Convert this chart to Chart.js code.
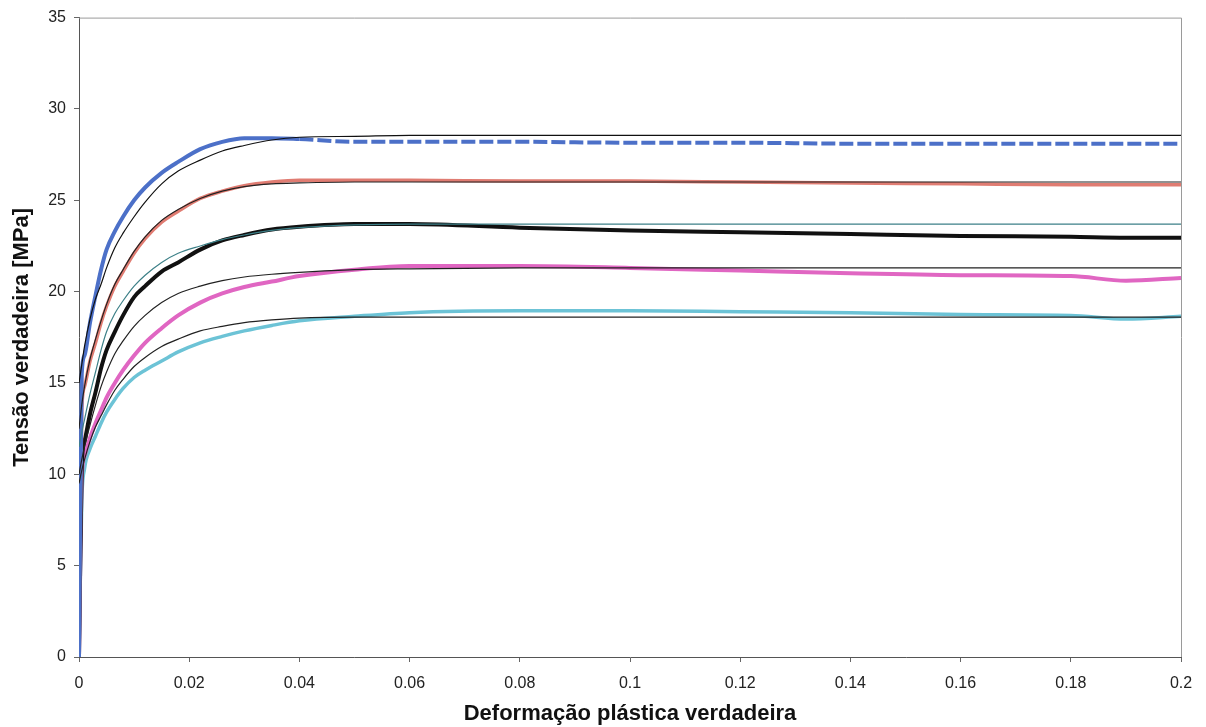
<!DOCTYPE html>
<html>
<head>
<meta charset="utf-8">
<script src="https://cdn.jsdelivr.net/npm/chart.js@4.4.1/dist/chart.umd.min.js"></script>
<style>
  html, body { margin: 0; padding: 0; background: #fff; }
  #wrap { width: 1206px; height: 727px; }
</style>
</head>
<body>
<div id="wrap"><canvas id="chart" width="1206" height="727"></canvas></div>
<script>
// true plastic strain (shared sample points)
const strain = [0, 0.0005, 0.001, 0.002, 0.003, 0.004, 0.005, 0.0065, 0.008, 0.01, 0.012, 0.015, 0.018, 0.022,
                0.026, 0.03, 0.035, 0.04, 0.05, 0.06, 0.08, 0.1, 0.12, 0.14, 0.16, 0.18, 0.19, 0.2];

// experimental curves (true stress, MPa)
const blueExp    = [0, 15.5, 16.5, 18.3, 19.8, 21.2, 22.3, 23.3, 24.1, 25.0, 25.7, 26.5, 27.1, 27.8,
                    28.2, 28.4, 28.4, 28.35, 28.2, 28.2, 28.2, 28.15, 28.15, 28.1, 28.1, 28.1, 28.1, 28.1];
const redExp     = [0, 13.5, 14.8, 16.2, 17.2, 18.3, 19.2, 20.3, 21.1, 22.1, 22.9, 23.8, 24.4, 25.1,
                    25.5, 25.8, 26.0, 26.1, 26.1, 26.1, 26.05, 26.05, 26.0, 25.95, 25.9, 25.85, 25.85, 25.85];
const blackExp   = [0, 10.5, 11.8, 13.3, 14.5, 15.8, 16.8, 17.8, 18.7, 19.7, 20.3, 21.1, 21.6, 22.3,
                    22.8, 23.1, 23.4, 23.55, 23.7, 23.7, 23.5, 23.35, 23.25, 23.15, 23.05, 23.0, 22.95, 22.95];
const magentaExp = [0, 9.8, 11.0, 12.0, 12.8, 13.5, 14.2, 15.0, 15.7, 16.5, 17.2, 18.0, 18.7, 19.4,
                    19.9, 20.25, 20.55, 20.85, 21.2, 21.4, 21.4, 21.3, 21.15, 21.0, 20.9, 20.85, 20.6, 20.75];
const cyanExp    = [0, 8.5, 10.3, 11.4, 12.1, 12.8, 13.4, 14.1, 14.7, 15.3, 15.7, 16.2, 16.7, 17.2,
                    17.55, 17.85, 18.15, 18.4, 18.65, 18.85, 18.95, 18.95, 18.9, 18.85, 18.75, 18.7, 18.5, 18.65];

// fitted curves
const blueFit    = [15, 16, 17, 18.5, 19.6, 20.4, 21.3, 22.4, 23.2, 24.1, 24.9, 25.9, 26.6, 27.2,
                    27.7, 28.0, 28.3, 28.45, 28.5, 28.55, 28.55, 28.55, 28.55, 28.55, 28.55, 28.55, 28.55, 28.55];
const redFit     = [12.5, 13.8, 14.8, 16.3, 17.4, 18.4, 19.3, 20.4, 21.2, 22.2, 23.0, 23.9, 24.5, 25.1,
                    25.5, 25.75, 25.9, 25.95, 26.0, 26.0, 26.0, 26.0, 26.0, 26.0, 26.0, 26.0, 26.0, 26.0];
const blackFit   = [11.5, 12.3, 13.0, 14.4, 15.6, 16.8, 17.8, 18.8, 19.5, 20.3, 20.9, 21.6, 22.1, 22.5,
                    22.85, 23.1, 23.35, 23.5, 23.65, 23.7, 23.7, 23.7, 23.7, 23.7, 23.7, 23.7, 23.7, 23.7];
const magentaFit = [10.0, 10.8, 11.5, 12.7, 13.8, 14.8, 15.6, 16.6, 17.3, 18.1, 18.7, 19.4, 19.9, 20.3,
                    20.6, 20.8, 20.95, 21.05, 21.2, 21.25, 21.3, 21.3, 21.3, 21.3, 21.3, 21.3, 21.3, 21.3];
const cyanFit    = [9.5, 10.2, 10.8, 11.8, 12.6, 13.2, 13.8, 14.6, 15.2, 15.9, 16.4, 17.0, 17.4, 17.85,
                    18.1, 18.3, 18.45, 18.55, 18.6, 18.6, 18.6, 18.6, 18.6, 18.6, 18.6, 18.6, 18.6, 18.6];

const xTicks = [0, 0.02, 0.04, 0.06, 0.08, 0.1, 0.12, 0.14, 0.16, 0.18, 0.2];
const yTicks = [0, 5, 10, 15, 20, 25, 30, 35];

const pts = ys => strain.map((x, i) => ({ x: x, y: ys[i] }));

function expSet(label, ys, color, width) {
    return { label: label, data: pts(ys), borderColor: color, borderWidth: width,
             pointRadius: 0, cubicInterpolationMode: 'monotone', order: 2 };
}
function fitSet(label, ys, color) {
    return { label: label, data: pts(ys), borderColor: color, borderWidth: 1.2,
             pointRadius: 0, cubicInterpolationMode: 'monotone', order: 1 };
}

const blue = expSet('Exp 1', blueExp, '#4c70c8', 4);
// the blue record is broken into dashes after the peak
blue.segment = { borderDash: ctx => ctx.p0.parsed.x >= 0.04 ? [14, 4] : undefined };

const bg = {
    id: 'bg',
    beforeDraw(chart) {
        const c = chart.ctx;
        c.save();
        c.fillStyle = '#fff';
        c.fillRect(0, 0, chart.width, chart.height);
        c.restore();
    },
    afterDraw(chart) {
        const a = chart.chartArea, c = chart.ctx;
        c.save();
        c.strokeStyle = '#9a9a9a';
        c.lineWidth = 1;
        c.beginPath();
        c.moveTo(a.left, a.top + 0.5);
        c.lineTo(a.right + 0.5, a.top + 0.5);
        c.lineTo(a.right + 0.5, a.bottom);
        c.stroke();
        c.restore();
    }
};

const font = 'Liberation Sans, Arial, sans-serif';

new Chart(document.getElementById('chart').getContext('2d'), {
    type: 'line',
    data: {
        datasets: [
            blue,
            expSet('Exp 2', redExp, '#e07c72', 3.5),
            expSet('Exp 3', blackExp, '#111111', 4),
            expSet('Exp 4', magentaExp, '#e066c2', 4),
            expSet('Exp 5', cyanExp, '#6cc3d6', 3.5),
            fitSet('Ajuste 1', blueFit, '#111'),
            fitSet('Ajuste 2', redFit, '#222'),
            fitSet('Ajuste 3', blackFit, '#3d8088'),
            fitSet('Ajuste 4', magentaFit, '#222'),
            fitSet('Ajuste 5', cyanFit, '#222')
        ]
    },
    options: {
        responsive: false,
        animation: false,
        layout: { padding: { left: 0, right: 25, top: 16, bottom: 0 } },
        plugins: { legend: { display: false }, tooltip: { enabled: false } },
        scales: {
            x: {
                type: 'linear', min: 0, max: 0.2,
                afterBuildTicks: s => { s.ticks = xTicks.map(v => ({ value: v })); },
                afterFit: s => { s.height = 70; },
                grid: { drawOnChartArea: false, tickLength: 5, color: '#666' },
                border: { color: '#555', width: 1 },
                ticks: { color: '#222', font: { family: font, size: 16 }, padding: 12,
                         maxRotation: 0, callback: v => String(+v.toFixed(2)) },
                title: { display: true, text: 'Deformação plástica verdadeira', color: '#111',
                         font: { family: font, size: 22, weight: 'bold' }, padding: { top: 0, bottom: 0 } }
            },
            y: {
                min: 0, max: 35,
                afterBuildTicks: s => { s.ticks = yTicks.map(v => ({ value: v })); },
                afterFit: s => { s.width = 79; },
                grid: { drawOnChartArea: false, tickLength: 5, color: '#666' },
                border: { color: '#555', width: 1 },
                ticks: { color: '#222', font: { family: font, size: 16 }, padding: 8 },
                title: { display: true, text: 'Tensão verdadeira [MPa]', color: '#111',
                         font: { family: font, size: 22, weight: 'bold' }, padding: { top: 9, bottom: 0 } }
            }
        }
    },
    plugins: [bg]
});
</script>
</body>
</html>
